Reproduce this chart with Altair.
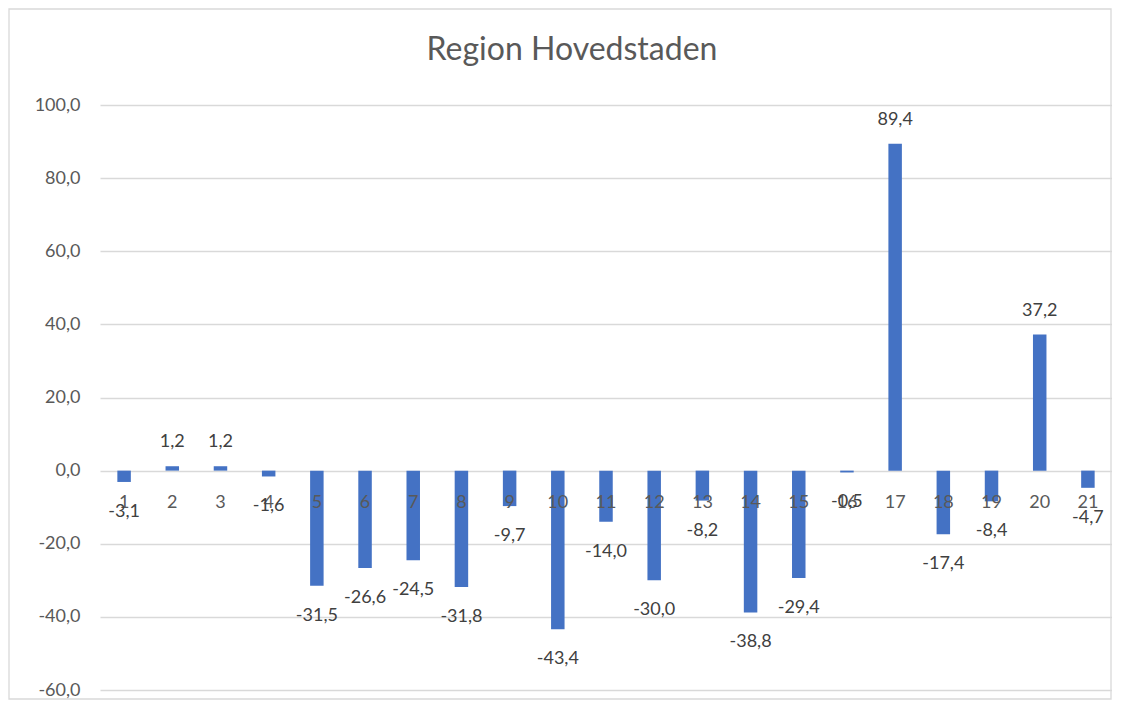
import altair as alt
import pandas as pd

categories = [str(i) for i in range(1, 22)]
values = [-3.1, 1.2, 1.2, -1.6, -31.5, -26.6, -24.5, -31.8, -9.7, -43.4, -14.0,
          -30.0, -8.2, -38.8, -29.4, -0.5, 89.4, -17.4, -8.4, 37.2, -4.7]
y_ticks = [-60, -40, -20, 0, 20, 40, 60, 80, 100]
title_text = "Region Hovedstaden"

df = pd.DataFrame({"cat": categories, "val": values})
df["lbl"] = [f"{v:.1f}".replace(".", ",") for v in values]

W, H = 1012, 585
FONT = "Lato"
GREY = "#595959"

x = alt.X("cat:N", sort=categories, axis=None,
          scale=alt.Scale(paddingInner=0.72, paddingOuter=0.36))
y = alt.Y("val:Q", scale=alt.Scale(domain=[-60, 100], nice=False),
          axis=alt.Axis(values=y_ticks, title=None, domain=False, ticks=False,
                        labelExpr="replace(replace(format(datum.value, '.1f'), '.', ','), '\u2212', '-')",
                        labelFont=FONT, labelFontSize=18, labelColor=GREY,
                        labelPadding=20, gridColor="#d9d9d9", gridWidth=1.3))

base = alt.Chart(df)

bars = base.mark_bar(color="#4472C4").encode(x=x, y=y)

pos_lbl = base.transform_filter("datum.val >= 0").mark_text(
    font=FONT, fontSize=18, color="#404040", dy=-24, baseline="middle"
).encode(x=x, y="val:Q", text="lbl:N")

neg_lbl = base.transform_filter("datum.val < 0").mark_text(
    font=FONT, fontSize=18, color="#404040", dy=30, baseline="middle"
).encode(x=x, y="val:Q", text="lbl:N")

cat_lbl = base.mark_text(
    font=FONT, fontSize=18, color=GREY, dy=32, baseline="middle"
).encode(x=x, y=alt.datum(0), text="cat:N")

one = base.transform_filter("datum.cat == '1'")

border = one.mark_rect(
    fill=None, stroke="#d9d9d9", strokeWidth=1.3, clip=False
).encode(x=alt.value(-91), x2=alt.value(W - 1), y=alt.value(-96), y2=alt.value(H + 9))

title = one.mark_text(
    font=FONT, fontSize=32, color=GREY, baseline="middle", align="center"
).encode(x=alt.value(472), y=alt.value(-55), text=alt.value(title_text))

chart = alt.layer(border, title, bars, cat_lbl, pos_lbl, neg_lbl).properties(
    width=W, height=H,
    autosize=alt.AutoSizeParams(type="none"),
    padding={"left": 92, "top": 97, "right": 0, "bottom": 10},
).configure_view(stroke=None)

chart.save("out.html", embed_options={"renderer": "svg", "actions": False})
